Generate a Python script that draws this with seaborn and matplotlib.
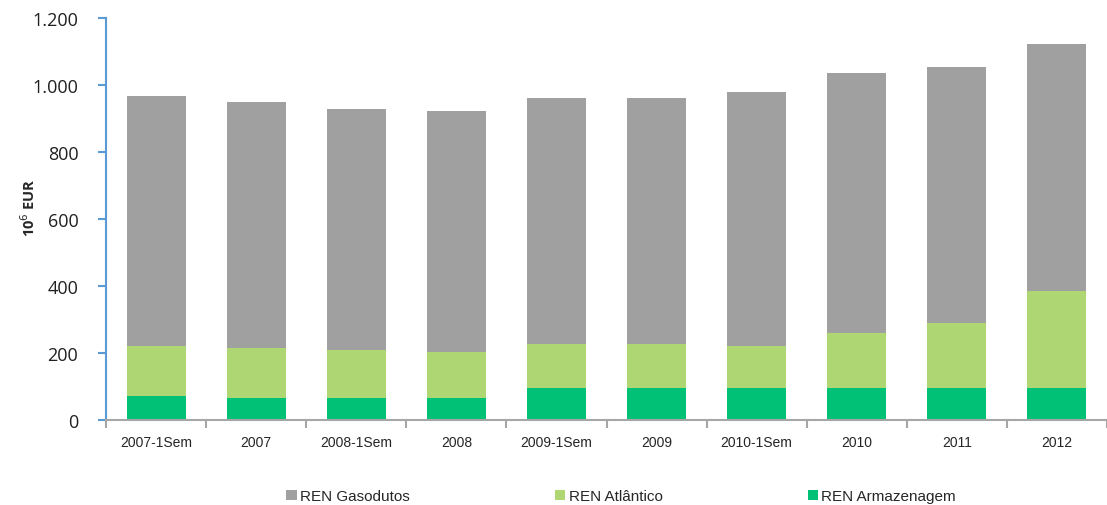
"""
Stacked bars of REN gas assets (10^6 EUR), 2007-2012.
"""

import matplotlib
matplotlib.use("Agg")
import matplotlib.pyplot as plt
import matplotlib.ticker as mticker
import seaborn as sns
import pandas as pd

periods = ["2007-1Sem", "2007", "2008-1Sem", "2008", "2009-1Sem",
           "2009", "2010-1Sem", "2010", "2011", "2012"]
armazenagem = [72, 65, 65, 65, 96, 96, 96, 96, 96, 96]
atlantico = [149, 149, 143, 137, 132, 132, 125, 163, 195, 288]
gasodutos = [746, 735, 720, 721, 733, 733, 759, 778, 764, 740]

series = [
    ("REN Gasodutos", gasodutos, "#a0a0a0"),
    ("REN Atlântico", atlantico, "#aed672"),
    ("REN Armazenagem", armazenagem, "#00c176"),
]

sns.set_theme(style="white")
plt.rcParams["font.family"] = ["Liberation Sans", "DejaVu Sans"]

df = pd.DataFrame({"period": periods, "arm": armazenagem,
                   "atl": atlantico, "gas": gasodutos})
bottoms = {
    "REN Armazenagem": [0] * len(periods),
    "REN Atlântico": list(df["arm"]),
    "REN Gasodutos": list(df["arm"] + df["atl"]),
}

fig = plt.figure(figsize=(11.07, 5.06), dpi=100)
ax = fig.add_axes([0.0958, 0.168, 0.9042, 0.794])

for name, vals, color in reversed(series):
    sns.barplot(x=periods, y=vals, bottom=bottoms[name], color=color,
                saturation=1, width=0.59, ax=ax, label=name, linewidth=0)
h, l = ax.get_legend_handles_labels()
if ax.legend_ is not None:
    ax.legend_.remove()

ax.set_ylim(0, 1200)
ax.set_xlim(-0.5, len(periods) - 0.5)
ax.set_yticks(range(0, 1201, 200))
ax.yaxis.set_major_formatter(
    mticker.FuncFormatter(lambda v, p: f"{int(v):,}".replace(",", ".")))

for s in ["top", "right"]:
    ax.spines[s].set_visible(False)
ax.spines["left"].set_color("#5b9bd5")
ax.spines["left"].set_linewidth(1.5)
ax.spines["bottom"].set_color("#a6a6a6")
ax.spines["bottom"].set_linewidth(1.5)

ax.tick_params(axis="y", direction="out", length=6, width=1.5,
               color="#5b9bd5", labelsize=13, pad=14, left=True)
for lbl in ax.get_yticklabels():
    lbl.set_family(["Open Sans", "DejaVu Sans"])
    lbl.set_color("#202020")

# category ticks sit between the bars
ax.set_xticks([i - 0.5 for i in range(len(periods) + 1)], minor=True)
ax.tick_params(axis="x", which="minor", direction="out", length=6,
               width=1.5, color="#a6a6a6", bottom=True)
ax.tick_params(axis="x", which="major", length=0, labelsize=10, pad=11)
ax.set_xlabel("")

ax.set_ylabel(r"10$^{6}$ EUR", fontsize=10.5, fontweight="bold",
              family=["Open Sans", "DejaVu Sans"])
ax.yaxis.set_label_coords(-0.068, 0.53)

order = [l.index(s[0]) for s in series]
fig.legend([h[i] for i in order], [l[i] for i in order],
           loc="center", bbox_to_anchor=(0.561, 0.017), ncol=3,
           frameon=False, fontsize=11, handlelength=0.7, handleheight=0.7,
           handletextpad=0.2, columnspacing=9.5)

fig.savefig("out.png", dpi=100)
